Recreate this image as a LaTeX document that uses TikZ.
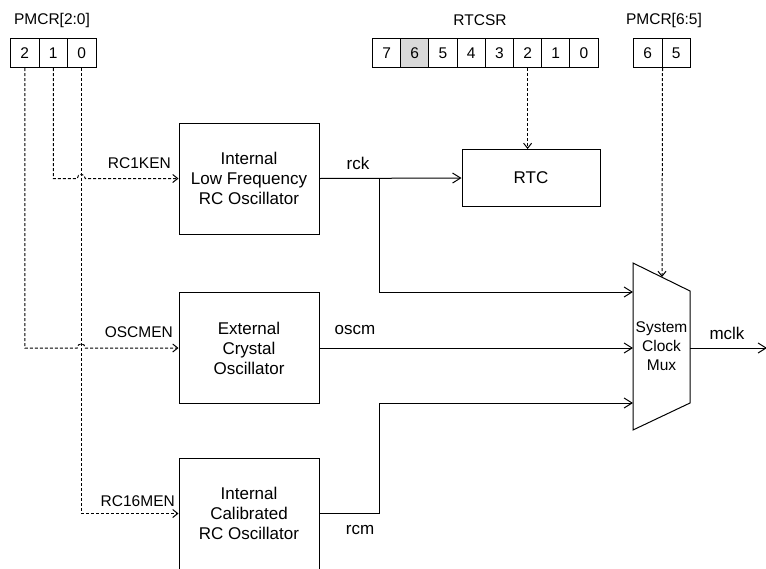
\documentclass[tikz,border=0pt]{standalone}
\usepackage{fontspec}
\setmainfont{Liberation Sans}
\usetikzlibrary{arrows.meta,calc}
\begin{document}
\begin{tikzpicture}[x=1pt,y=-1pt,
  lbl/.style={font=\fontsize{15.5}{19}\selectfont, inner sep=0pt},
  siglbl/.style={font=\fontsize{17}{20}\selectfont, inner sep=0pt},
  cell/.style={draw, line width=1pt, minimum width=28.5pt, minimum height=29pt, inner sep=0pt, anchor=north west, font=\fontsize{15.5}{18}\selectfont},
  blk/.style={draw, line width=1pt, minimum width=140pt, minimum height=111pt, inner sep=0pt, align=center, font=\fontsize{17}{20}\selectfont},
  sig/.style={line width=1pt, -{Straight Barb[length=8pt,width=10pt]}},
  ctl/.style={line width=1pt, dash pattern=on 3pt off 2pt, -{Straight Barb[length=5pt,width=8pt]}}
]
\useasboundingbox (0,0) rectangle (766,568);

% register labels
\node[lbl] (lp20) at (52,20) {PMCR[2:0]};
\node[lbl] (lrt) at (480,20) {RTCSR};
\node[lbl] (lp65) at (664,20) {PMCR[6:5]};

% register cells
\foreach \b/\i in {2/0,1/1,0/2} \node[cell] (p\b) at (10+\i*28.5,38) {\b};
\foreach \b/\i in {7/0,6/1,5/2,4/3,3/4,2/5,1/6,0/7} \node[cell, minimum width=28.2pt] (r\b) at (372+\i*28.2,38) {\b};
\node[cell, minimum width=28.2pt, fill=black!15] (r6) at (400.2,38) {6};
\node[cell] (q6) at (633,38) {6};
\node[cell] (q5) at (661.5,38) {5};

% blocks
\node[blk] (osc1) at (249,178.5) {Internal\\Low Frequency\\RC Oscillator};
\node[blk] (osc2) at (249,348) {External\\Crystal\\Oscillator};
\node[blk] (osc3) at (249,513.5) {Internal\\Calibrated\\RC Oscillator};
\node[draw, line width=1pt, minimum width=138pt, minimum height=57pt, font=\fontsize{17}{20}\selectfont] (rtc) at (531,178) {RTC};

% mux
\coordinate (mtl) at (633,263);
\coordinate (mtr) at (690,291);
\coordinate (mbr) at (690,403);
\coordinate (mbl) at (633,430);
\draw[line width=1pt] (mtl) -- (mtr) -- (mbr) -- (mbl) -- cycle;
\node[lbl, align=center] (muxt) at (661.5,346) {System\\Clock\\Mux};
\coordinate (min1) at (633,292);
\coordinate (min2) at (633,348);
\coordinate (min3) at (633,403);
\coordinate (msel) at (662,277);
\coordinate (mout) at (690,348);
\coordinate (mend) at (767,348);

% clock signals
\coordinate (rbr) at (379,178.5);
\coordinate (rcmk) at (379,0);
\draw[sig] (osc1.east) -- (rtc.west);
\draw[sig] (rbr) |- (min1);
\draw[sig] (osc2.east) -- (min2);
\draw[sig] (osc3.east) -- (osc3.east -| rcmk) -- (rcmk |- min3) -- (min3);
\draw[sig] (mout) -- (mend);

% control signals
\draw[ctl] (r2.south) -- (rtc.north -| r2.south);
\draw[ctl] (q6.south east) -- (msel);
\coordinate (h1a) at (77.25,178.5);
\coordinate (h1b) at (85.25,178.5);
\coordinate (h2a) at (77.25,348);
\coordinate (h2b) at (85.25,348);
\draw[ctl] (p1.south) |- (h1a) .. controls +(0,-5.5) and +(0,-5.5) .. (h1b) -- (osc1.west);
\draw[ctl] (p2.south) |- (h2a) .. controls +(0,-5.5) and +(0,-5.5) .. (h2b) -- (osc2.west);
\draw[ctl] (p0.south) |- (osc3.west);

% labels
\node[lbl, anchor=east] (l1) at (171,163) {RC1KEN};
\node[lbl, anchor=east] (l2) at (173,332) {OSCMEN};
\node[lbl, anchor=east] (l3) at (175,501) {RC16MEN};
\node[siglbl] (lrck) at (358,163) {rck};
\node[siglbl] (losc) at (355,330) {oscm};
\node[siglbl] (lrcm) at (360,530) {rcm};
\node[siglbl] (lmclk) at (727,333) {mclk};
\end{tikzpicture}
\end{document}
